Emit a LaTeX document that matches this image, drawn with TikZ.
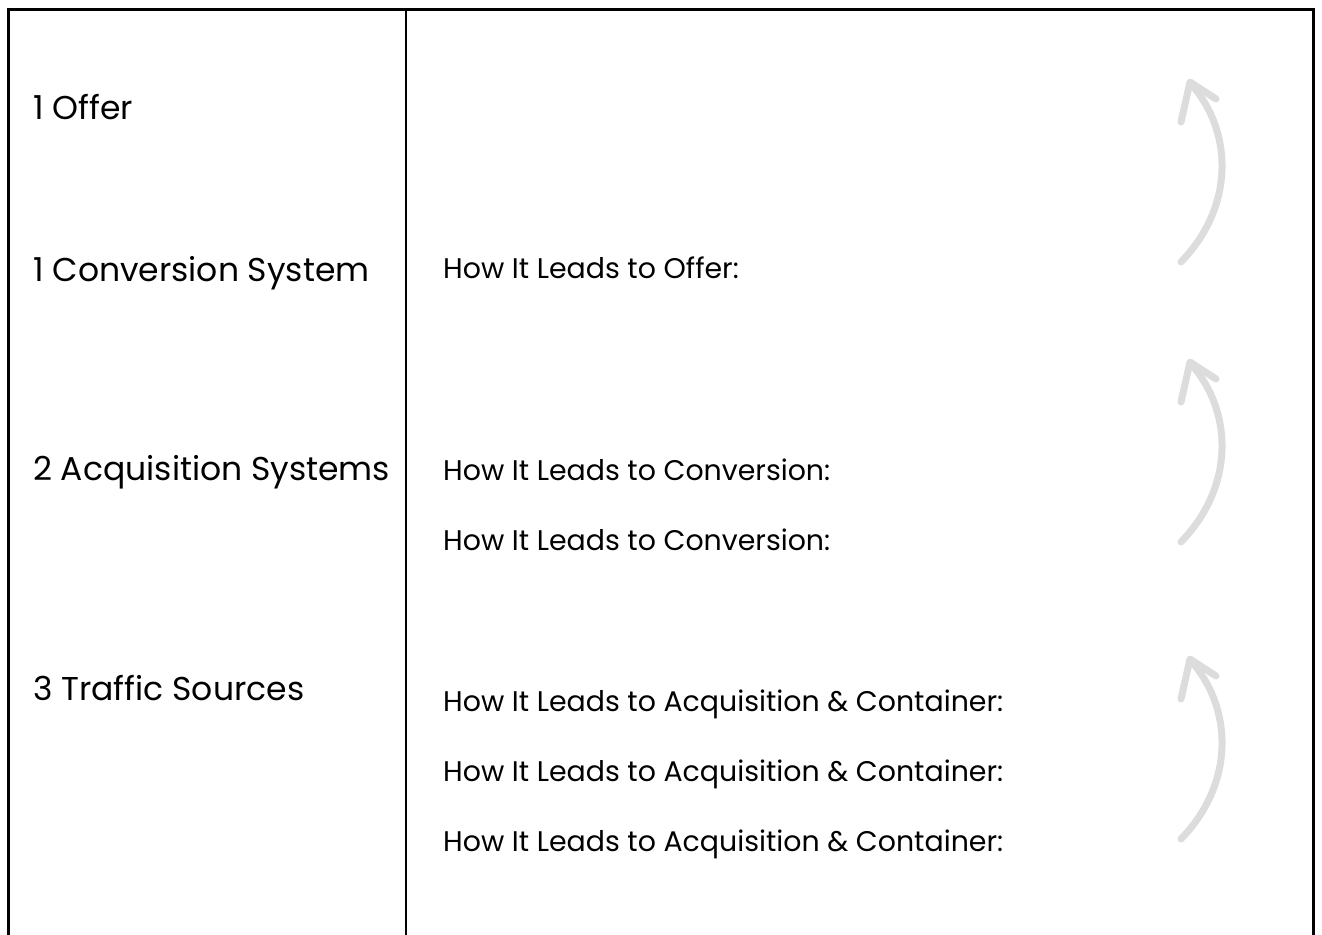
\documentclass[tikz,border=0pt]{standalone}
\usepackage{fontspec}
\setmainfont{Poppins}[Ligatures=NoCommon]
\definecolor{arrowgray}{HTML}{DCDCDC}
\tikzset{
  lefttext/.style={anchor=base west, inner sep=0pt, font=\fontsize{33}{40}\selectfont},
  righttext/.style={anchor=base west, inner sep=0pt, font=\fontsize{28.4}{34}\selectfont},
  framebox/.style={line width=3pt, black},
  divider/.style={line width=1.5pt, black},
  upcurve/.style={arrowgray, line width=7pt, line cap=round, line join=round}
}
\newcommand{\upArrow}[1]{%
  \begin{scope}[yshift=#1]
    \draw[upcurve] (1181,-262) .. controls (1236,-205) and (1232,-130) .. (1191,-84);
    \draw[upcurve] (1181,-122) -- (1190,-82) -- (1216,-99);
  \end{scope}}
\begin{document}
\begin{tikzpicture}[x=1pt,y=1pt]
\useasboundingbox (0,0) rectangle (1322,-934);
\draw[framebox] (8,-936) -- (8,-10) -- (1313,-10) -- (1313,-936);
\draw[divider] (406,-11) -- (406,-936);
\node[lefttext] (offer) at (33,-119) {1 Offer};
\node[lefttext] (conv) at (33,-281) {1 Conversion System};
\node[lefttext] (acq) at (33,-480) {2 Acquisition Systems};
\node[lefttext] (traffic) at (33,-700) {3 Traffic Sources};
\node[righttext] (r1) at (443,-278) {How It Leads to Offer:};
\node[righttext] (r2) at (443,-480) {How It Leads to Conversion:};
\node[righttext] (r3) at (443,-550) {How It Leads to Conversion:};
\node[righttext] (r4) at (443,-711) {How It Leads to Acquisition \& Container:};
\node[righttext] (r5) at (443,-781) {How It Leads to Acquisition \& Container:};
\node[righttext] (r6) at (443,-851) {How It Leads to Acquisition \& Container:};
\upArrow{0pt}
\upArrow{-280pt}
\upArrow{-577pt}
\end{tikzpicture}
\end{document}
